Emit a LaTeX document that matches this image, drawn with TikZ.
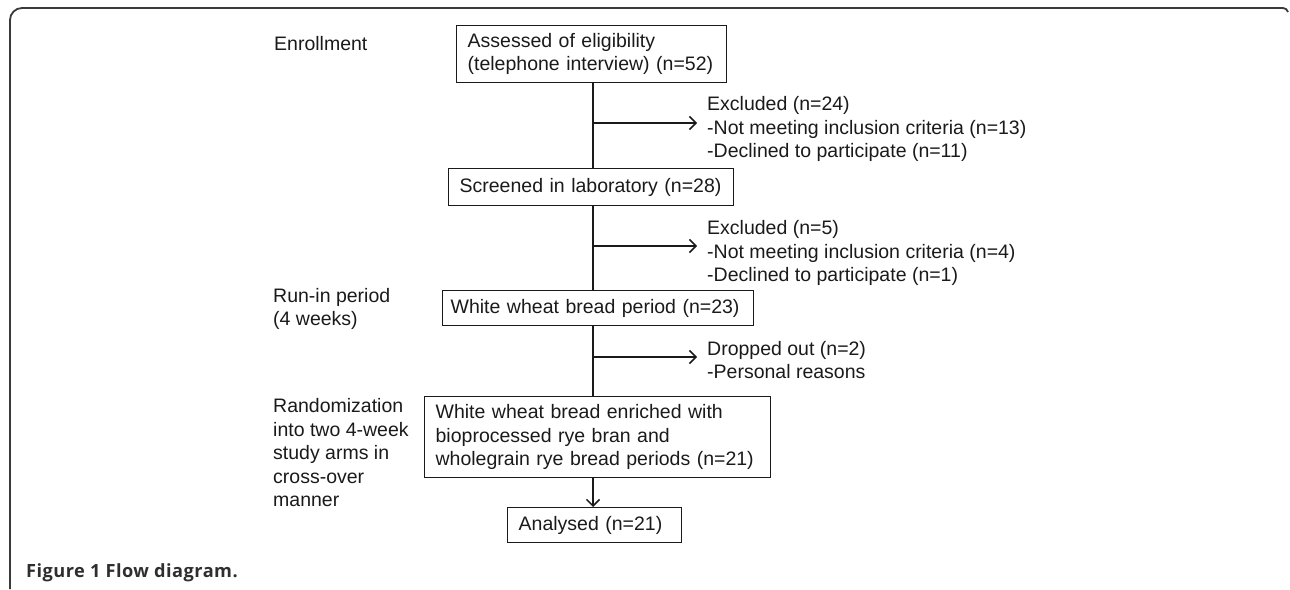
\documentclass[tikz,border=0pt]{standalone}
\usepackage{fontspec}
\setmainfont{Liberation Sans}
\newfontfamily\capfont[LetterSpace=2.5]{Open Sans}
\usetikzlibrary{arrows.meta}
\newcommand{\diagfont}{\fontsize{19.5}{23.5}\selectfont}
\definecolor{ink}{HTML}{1A1A1A}
\definecolor{capink}{HTML}{2E2E2E}
\definecolor{framecol}{HTML}{3A3A3A}
\tikzset{
  box/.style={draw=ink, line width=1.3pt, anchor=north west, inner xsep=11pt, inner ysep=0pt, align=left, font=\diagfont, text=ink},
  lbl/.style={anchor=west, align=left, inner xsep=0pt, inner ysep=0pt, font=\diagfont, text=ink},
  exc/.style={anchor=west, align=left, inner xsep=10pt, inner ysep=0pt, font=\diagfont, text=ink},
  link/.style={draw=ink, line width=1.5pt},
  arr/.style={link, -{Straight Barb[length=6.5pt, width=13pt, line width=1.5pt]}}
}
\begin{document}
\begin{tikzpicture}[x=1pt, y=-1pt]
\useasboundingbox (0,0) rectangle (1290,589);
% frame
\draw[framecol, line width=1.8pt] (10,589) -- (10,20) arc[start angle=180, end angle=270, radius=12] -- (1283,8) to[out=0, in=110] (1288,12);
% left labels
\node[lbl] (enr) at (274,44) {Enrollment};
\node[lbl] (run) at (273,309) {Run-in period\\(4 weeks)};
\node[lbl] (rand) at (273,453) {Randomization\\into two 4-week\\study arms in\\cross-over\\manner};
% boxes
\node[box, minimum width=270pt, minimum height=57pt, text width=248pt] (b1) at (456,25) {Assessed of eligibility\\(telephone interview) (n=52)};
\node[box, minimum width=285pt, minimum height=37pt, text width=263pt] (b2) at (448,168) {Screened in laboratory (n=28)};
\node[box, inner xsep=8pt, minimum width=311pt, minimum height=35pt, text width=295pt] (b3) at (442,290) {White wheat bread period (n=23)};
\node[box, minimum width=346pt, minimum height=81pt, text width=324pt] (b4) at (424,396) {White wheat bread enriched with\\bioprocessed rye bran and\\wholegrain rye bread periods (n=21)};
\node[box, minimum width=174pt, minimum height=35pt, text width=152pt] (b5) at (507,507) {Analysed (n=21)};
% exclusion texts
\node[exc] (e1) at (697,129) {Excluded (n=24)\\-Not meeting inclusion criteria (n=13)\\-Declined to participate (n=11)};
\node[exc] (e2) at (697,253) {Excluded (n=5)\\-Not meeting inclusion criteria (n=4)\\-Declined to participate (n=1)};
\node[exc] (e3) at (697,360) {Dropped out (n=2)\\-Personal reasons};
% spine
\coordinate (spine) at (593,0);
\coordinate (a1) at (593,123);
\coordinate (a2) at (593,246);
\coordinate (a3) at (593,357);
\draw[link] (b1.south -| spine) -- (b2.north -| spine);
\draw[link] (b2.south -| spine) -- (b3.north -| spine);
\draw[link] (b3.south -| spine) -- (b4.north -| spine);
\draw[arr] (b4.south -| spine) -- (b5.north -| spine);
\draw[arr] (a1) -- (a1 -| e1.west);
\draw[arr] (a2) -- (a2 -| e2.west);
\draw[arr] (a3) -- (a3 -| e3.west);
% caption
\node[anchor=base west, inner sep=0pt, text=capink, font=\capfont\bfseries\fontsize{18.2}{20}\selectfont] (cap) at (26,577) {Figure 1 Flow diagram.};
\end{tikzpicture}
\end{document}
